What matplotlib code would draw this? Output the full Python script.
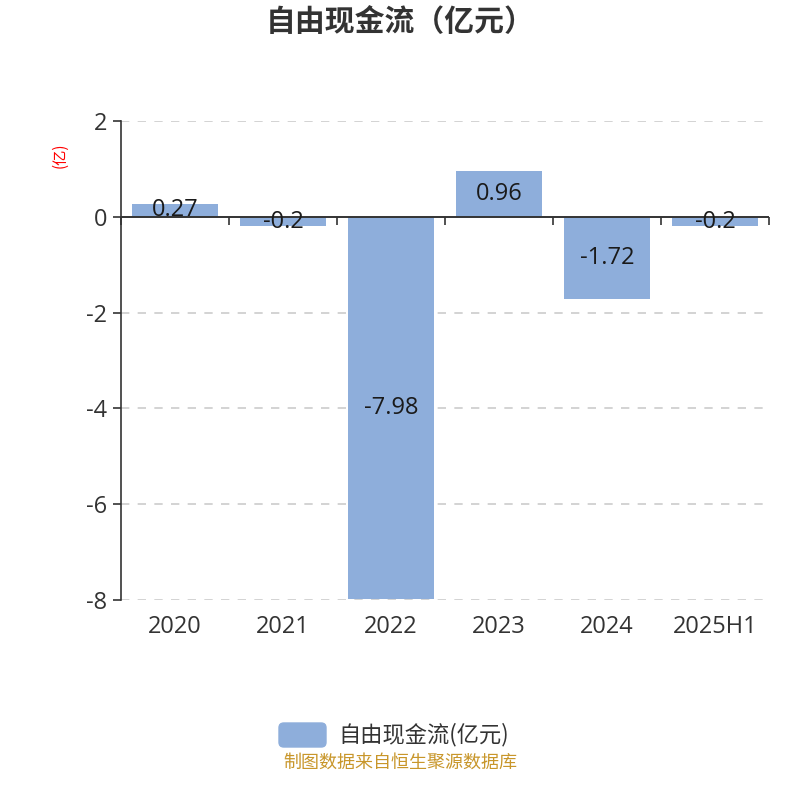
import matplotlib
matplotlib.use('Agg')
import matplotlib.pyplot as plt
from matplotlib.patches import FancyBboxPatch
import numpy as np

plt.rcParams['font.family'] = ['Noto Sans CJK SC', 'DejaVu Sans']
num_font = ['Open Sans', 'Noto Sans CJK SC']

categories = ['2020', '2021', '2022', '2023', '2024', '2025H1']
values = [0.27, -0.2, -7.98, 0.96, -1.72, -0.2]
yticks = [2, 0, -2, -4, -6, -8]
series_name = '自由现金流(亿元)'
title = '自由现金流（亿元）'
unit = '(亿)'
source = '制图数据来自恒生聚源数据库'

bar_color = '#8eaedb'
text_color = '#333333'

fig = plt.figure(figsize=(8, 8), dpi=100)
ax = fig.add_axes([121 / 800, 1 - 600 / 800, 648 / 800, 479 / 800])

x = np.arange(len(categories))
ax.bar(x, values, width=0.8, color=bar_color, zorder=2)

# value labels in the middle of each bar
for xi, v in zip(x, values):
    ax.text(xi, v / 2, f'{v:g}', ha='center', va='center', fontsize=17,
            family=num_font, color='#1a1a1a', zorder=4)

ax.set_xlim(-0.5, len(categories) - 0.5)
ax.set_ylim(-8, 2)
ax.set_yticks(yticks)
ax.set_yticklabels([str(t) for t in yticks], fontsize=17, color=text_color, family=num_font)
ax.set_xticks(x)
ax.set_xticklabels(categories, fontsize=17, color=text_color, family=num_font)
ax.tick_params(axis='x', length=0, pad=11)
ax.tick_params(axis='y', length=6, width=1.2, color=text_color, pad=4)

for t in yticks:
    if t != 0:
        ax.axhline(t, color='#cccccc', lw=1.2, ls=(0, (5, 5)), zorder=1)

# zero line with category boundary ticks
ax.axhline(0, color=text_color, lw=1.4, zorder=3)
bounds = np.arange(len(categories) + 1) - 0.5
ax.plot(bounds, np.zeros_like(bounds), ls='none', marker=3, markersize=6,
        markeredgewidth=1.2, color=text_color, zorder=3, clip_on=False)

for s in ['top', 'right', 'bottom']:
    ax.spines[s].set_visible(False)
ax.spines['left'].set_color(text_color)
ax.spines['left'].set_linewidth(1.2)

fig.text(0.5, 1 - 22 / 800, title, ha='center', va='center', fontsize=21.5,
         fontweight='bold', color=text_color)
fig.text(60 / 800, 1 - 155 / 800, unit, ha='center', va='center', rotation=90,
         fontsize=11, color='red')

# legend
patch = FancyBboxPatch((279 / 800, 1 - 747 / 800), 47 / 800, 24 / 800,
                       boxstyle='round,pad=0,rounding_size=0.006',
                       transform=fig.transFigure, color=bar_color)
fig.patches.append(patch)
fig.text(338 / 800, 1 - 735 / 800, series_name, ha='left', va='center',
         fontsize=16, color=text_color)

fig.text(0.5, 1 - 763 / 800, source, ha='center', va='center', fontsize=13,
         color='#c8962a')

fig.savefig('out.png', dpi=100)
